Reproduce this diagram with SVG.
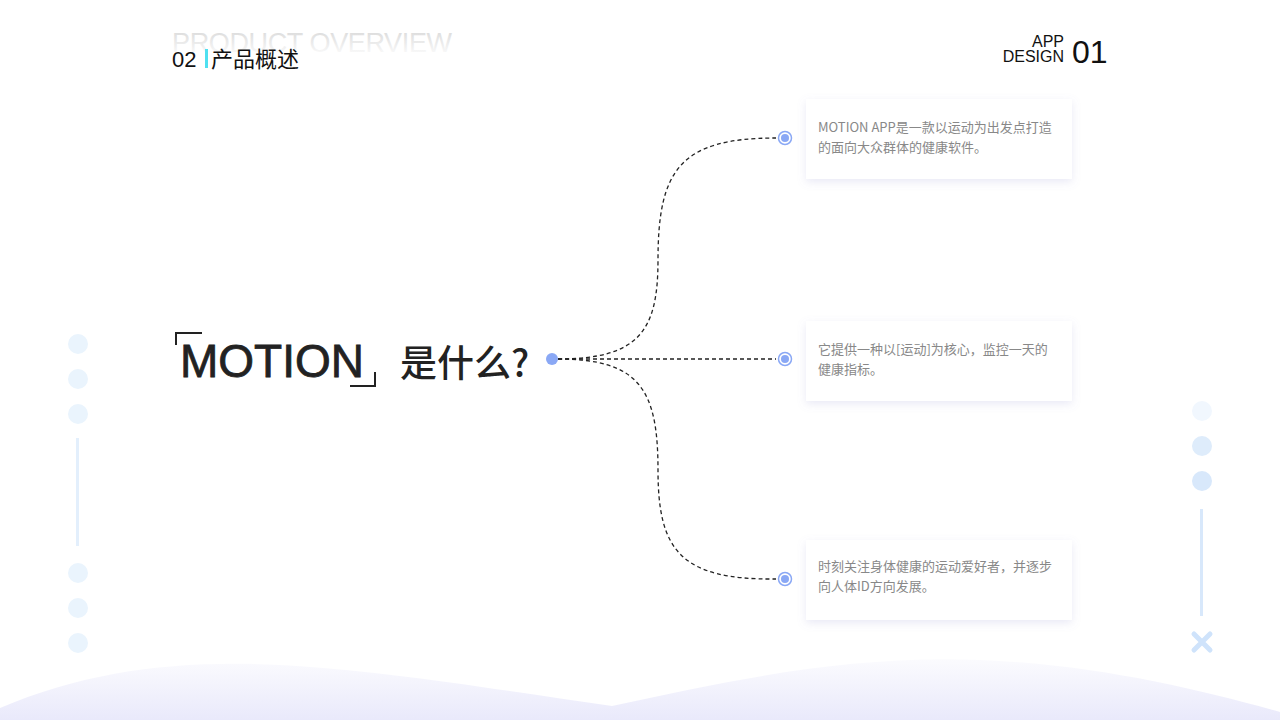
<svg xmlns="http://www.w3.org/2000/svg" width="1280" height="720" viewBox="0 0 1280 720">
<defs>
<linearGradient id="wave" x1="0" y1="0" x2="0" y2="1"><stop offset="0" stop-color="#fbfbfe"/><stop offset="1" stop-color="#e9e9fb"/></linearGradient>
<linearGradient id="ghost" x1="0" y1="0" x2="0" y2="1"><stop offset="0" stop-color="#d8d8d8"/><stop offset="1" stop-color="#ffffff"/></linearGradient>
<filter id="sh" x="-10%" y="-20%" width="120%" height="150%"><feDropShadow dx="0" dy="3" stdDeviation="4" flood-color="#8888cc" flood-opacity="0.18"/></filter>
<style>
.cn{font-family:"Noto Sans CJK SC","Liberation Sans",sans-serif;}
.card{fill:#fff;filter:url(#sh);}
.ct{font-family:"Noto Sans CJK SC",sans-serif;font-size:13px;fill:#888;}
.dot{fill:#fff;stroke:#8aa8f5;stroke-width:1.5;}
.dotc{fill:#8aa8f5;}
.conn{fill:none;stroke:#222;stroke-width:1.3;stroke-dasharray:4 3;}
</style>
</defs>
<rect width="1280" height="720" fill="#fff"/>
<path d="M0 708 C90 670 180 660 280 665 C380 670 500 690 612 706 C730 680 850 655 980 660 C1100 665 1200 690 1280 712 L1280 720 L0 720 Z" fill="url(#wave)"/>
<g id="header">
<text x="172" y="52" font-family="Liberation Sans,sans-serif" font-size="27" textLength="280" fill="url(#ghost)">PRODUCT OVERVIEW</text>
<text x="172" y="67" font-family="Liberation Sans,sans-serif" font-size="22" fill="#111">02</text>
<rect x="205" y="49" width="3" height="19" fill="#4fe0f0"/>
<text x="211" y="67" class="cn" font-size="22" fill="#111">产品概述</text>
<text x="1064" y="47" text-anchor="end" font-family="Liberation Sans,sans-serif" font-size="16" fill="#111">APP</text>
<text x="1064" y="62" text-anchor="end" font-family="Liberation Sans,sans-serif" font-size="16" fill="#111">DESIGN</text>
<text x="1072" y="63" font-family="Liberation Sans,sans-serif" font-size="32" fill="#111">01</text>
</g>
<g id="deco-left" fill="#eaf4fd">
<circle cx="78" cy="344" r="10"/><circle cx="78" cy="379" r="10"/><circle cx="78" cy="414" r="10"/>
<rect x="76" y="438" width="3" height="108" fill="#e3effc"/>
<circle cx="78" cy="573" r="10"/><circle cx="78" cy="608" r="10"/><circle cx="78" cy="643" r="10"/>
</g>
<g id="deco-right">
<circle cx="1202" cy="411" r="10" fill="#f1f7fe"/><circle cx="1202" cy="446" r="10" fill="#deecfb"/><circle cx="1202" cy="481" r="10" fill="#d8e8fb"/>
<rect x="1200" y="509" width="3" height="107" fill="#d8e8fb"/>
<path d="M1194 634 L1210 650 M1210 634 L1194 650" stroke="#cfe3fb" stroke-width="5" stroke-linecap="round"/>
</g>
<g id="title">
<path d="M176 345 V333 H202" fill="none" stroke="#222" stroke-width="2"/>
<text x="180" y="377" font-family="Liberation Sans,sans-serif" font-size="46" fill="#222" stroke="#222" stroke-width="0.8">MOTION</text>
<path d="M350 386 H375 V372" fill="none" stroke="#222" stroke-width="2"/>
<text x="400" y="377" class="cn" font-size="37" fill="#222" font-weight="500">是什么?</text>
<circle cx="552" cy="359" r="6" fill="#8aa8f5"/>
</g>
<g id="connectors">
<path class="conn" d="M558 359 C640 359 658 330 658 260 C658 170 680 138 776 138"/>
<path class="conn" d="M558 359 L776 359"/>
<path class="conn" d="M558 359 C640 359 658 390 658 470 C658 550 680 580 776 579"/>
</g>
<g id="node1">
<rect class="card" x="806" y="99" width="266" height="80"/>
<circle class="dot" cx="785" cy="138" r="6.5"/><circle class="dotc" cx="785" cy="138" r="4"/>
<text class="ct" x="818" y="132">MOTION APP是一款以运动为出发点打造</text>
<text class="ct" x="818" y="152">的面向大众群体的健康软件。</text>
</g>
<g id="node2">
<rect class="card" x="806" y="321" width="266" height="80"/>
<circle class="dot" cx="785" cy="359" r="6.5"/><circle class="dotc" cx="785" cy="359" r="4"/>
<text class="ct" x="818" y="354">它提供一种以[运动]为核心，监控一天的</text>
<text class="ct" x="818" y="374">健康指标。</text>
</g>
<g id="node3">
<rect class="card" x="806" y="540" width="266" height="80"/>
<circle class="dot" cx="785" cy="579" r="6.5"/><circle class="dotc" cx="785" cy="579" r="4"/>
<text class="ct" x="818" y="571">时刻关注身体健康的运动爱好者，并逐步</text>
<text class="ct" x="818" y="591">向人体ID方向发展。</text>
</g>
</svg>
